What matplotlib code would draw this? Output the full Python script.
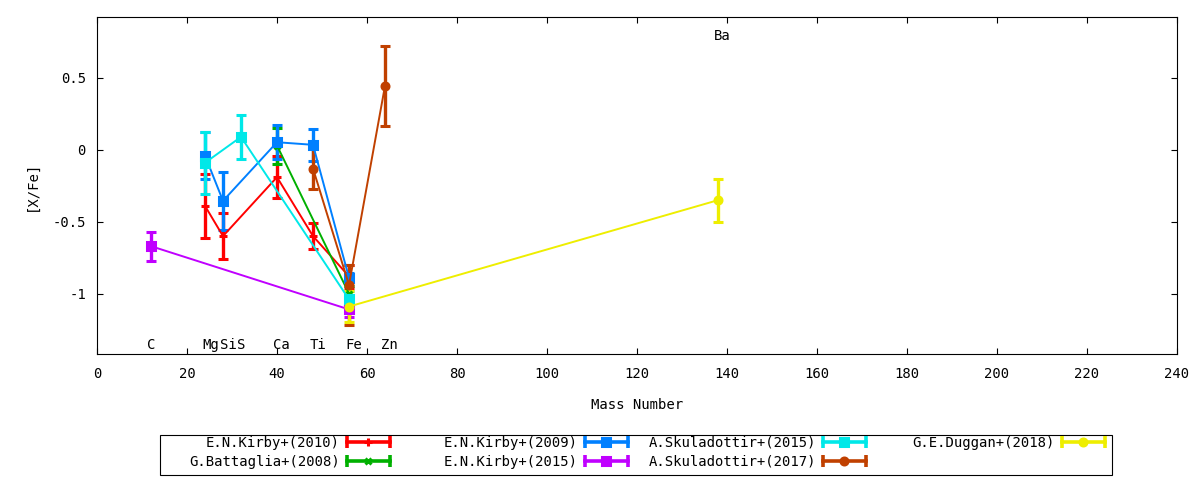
import matplotlib
matplotlib.use("Agg")
import matplotlib.pyplot as plt
from matplotlib.lines import Line2D
from matplotlib.patches import Rectangle
from matplotlib.legend_handler import HandlerLine2D, HandlerTuple
from matplotlib.ticker import FuncFormatter

plt.rcParams['font.family'] = 'DejaVu Sans Mono'
plt.rcParams['font.size'] = 10
plt.rcParams['axes.unicode_minus'] = False

# element labels
elem_names = ['C', 'Mg', 'Si', 'S', 'Ca', 'Ti', 'Fe', 'Zn', 'Ba']
elem_x = [12, 25.3, 29.1, 32, 41, 49.2, 57, 65, 139]
elem_y = [-1.355, -1.355, -1.355, -1.355, -1.355, -1.355, -1.355, -1.355, 0.79]

# data: mass number, [X/Fe], error
kirby10_x = [24, 28, 40, 48, 56]
kirby10_y = [-0.39, -0.60, -0.19, -0.60, -0.88]
kirby10_err = [0.22, 0.16, 0.145, 0.09, 0.08]

battaglia08_x = [40, 56]
battaglia08_y = [0.03, -1.0]
battaglia08_err = [0.125, 0.05]

kirby09_x = [24, 28, 40, 48, 56]
kirby09_y = [-0.04, -0.355, 0.053, 0.035, -0.89]
kirby09_err = [0.165, 0.2, 0.12, 0.11, 0.03]

kirby15_x = [12, 56]
kirby15_y = [-0.67, -1.11]
kirby15_err = [0.1, 0.05]

skul15_x = [24, 32, 56]
skul15_y = [-0.09, 0.09, -1.04]
skul15_err = [0.215, 0.155, 0.06]

skul17_x = [48, 56, 64]
skul17_y = [-0.13, -0.94, 0.445]
skul17_err_lo = [0.145, 0.28, 0.28]
skul17_err_hi = [0.145, 0.14, 0.28]

duggan18_x = [56, 138]
duggan18_y = [-1.09, -0.35]
duggan18_err = [0.105, 0.15]

labels = ['E.N.Kirby+(2010)', 'G.Battaglia+(2008)', 'E.N.Kirby+(2009)', 'E.N.Kirby+(2015)',
          'A.Skuladottir+(2015)', 'A.Skuladottir+(2017)', 'G.E.Duggan+(2018)']
colors = ['#ff0000', '#00b000', '#0080ff', '#c000ff', '#00e8e8', '#c04000', '#eeee00']
markers = ['+', 'x', 's', 's', 's', 'o', 'o']
msizes = [6, 5, 5.5, 5.5, 5.5, 5, 5]
xs = [kirby10_x, battaglia08_x, kirby09_x, kirby15_x, skul15_x, skul17_x, duggan18_x]
ys = [kirby10_y, battaglia08_y, kirby09_y, kirby15_y, skul15_y, skul17_y, duggan18_y]
errs = [kirby10_err, battaglia08_err, kirby09_err, kirby15_err, skul15_err,
        [skul17_err_lo, skul17_err_hi], duggan18_err]

fig = plt.figure(figsize=(12, 4.8), dpi=100)
ax = fig.add_axes([97/1200, 126/480, 1080/1200, 337/480])

for x, y, e, c, m, s in zip(xs, ys, errs, colors, markers, msizes):
    ax.errorbar(x, y, yerr=e, color=c, marker=m, ms=s, mew=2.2, lw=1.4,
                elinewidth=2.4, capsize=3.5, capthick=2.4)

for n, tx, ty in zip(elem_names, elem_x, elem_y):
    ax.text(tx, ty, n, ha='center', va='center')

ax.set_xlim(0, 240)
ax.set_ylim(-1.42, 0.924)
ax.set_xticks(range(0, 241, 20))
ax.set_yticks([-1, -0.5, 0, 0.5])
ax.yaxis.set_major_formatter(FuncFormatter(lambda v, p: '%g' % v))
ax.tick_params(direction='in', length=4, width=0.8, top=True, right=True)
ax.tick_params(axis='x', pad=9)
ax.tick_params(axis='y', pad=8)
for sp in ax.spines.values():
    sp.set_linewidth(0.8)

ax.set_xlabel('Mass Number')
ax.xaxis.set_label_coords(0.5, -0.13)
ax.set_ylabel('[X/Fe]')
ax.yaxis.set_label_coords(-0.054, 0.5)

# legend, gnuplot style: four columns, text right-justified
col_right = [390, 628, 866, 1105]
cols = [[0, 1], [2, 3], [4, 5], [6]]
for right, idx in zip(col_right, cols):
    handles = []
    hmap = {}
    for i in idx:
        ln = Line2D([], [], color=colors[i], lw=2.6, marker=markers[i], ms=msizes[i], mew=2.2)
        caps = Line2D([], [], color=colors[i], ls='none', marker='|', ms=8, mew=2.6)
        hmap[caps] = HandlerLine2D(numpoints=2, marker_pad=0)
        handles.append((ln, caps))
    hmap[tuple] = HandlerTuple(ndivide=1, pad=0)
    fig.legend(handles, [labels[i] for i in idx], handler_map=hmap,
               loc='upper right', bbox_to_anchor=(right/1200, 1 - 436/480),
               frameon=False, markerfirst=False, numpoints=1,
               handlelength=3.1, handletextpad=0.5, labelspacing=0.35,
               borderpad=0, borderaxespad=0)

fig.patches.append(Rectangle((160/1200, 5/480), 952/1200, 40/480, transform=fig.transFigure,
                             fill=False, edgecolor='black', lw=0.8))

fig.savefig('out.png', dpi=100)
